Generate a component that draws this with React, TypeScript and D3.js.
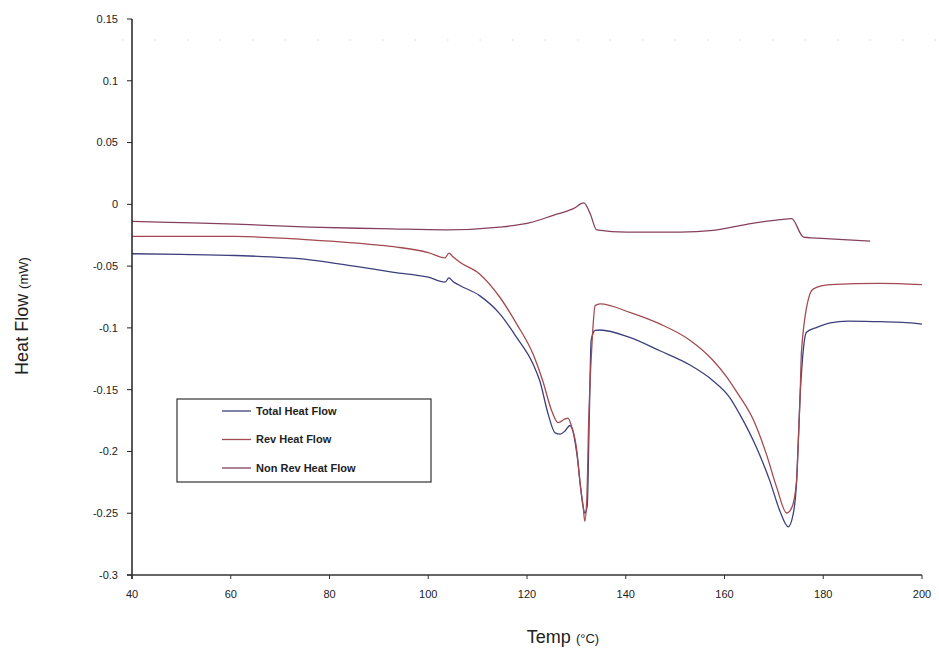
import React from "react";
import * as d3 from "d3";

// temperatures (°C) and heat flow (mW)
const totalTemp = [40, 50, 61, 76, 85, 93, 100, 103.4, 104.2, 105, 106.4, 110.4, 114.5, 117.9, 121.2, 122.6, 124.3, 125.7, 126.7, 127.7, 128.7, 129.3, 130.1, 131.3, 131.7, 132.2, 132.6, 133, 133.8, 134.8, 140.8, 146.9, 153, 157.6, 161, 163.1, 166.5, 169.2, 171.2, 172.9, 173.9, 174.6, 174.9, 175.3, 175.8, 176.6, 178.7, 181.4, 185, 191.5, 196, 200];
const totalFlow = [-0.04, -0.0405, -0.0414, -0.0449, -0.05, -0.055, -0.059, -0.063, -0.0595, -0.0625, -0.0657, -0.0739, -0.0887, -0.1077, -0.129, -0.143, -0.17, -0.185, -0.186, -0.1834, -0.179, -0.1834, -0.202, -0.243, -0.25, -0.244, -0.175, -0.11, -0.102, -0.1017, -0.1077, -0.1185, -0.13, -0.1425, -0.156, -0.17, -0.197, -0.224, -0.248, -0.261, -0.251, -0.224, -0.197, -0.156, -0.125, -0.1036, -0.0996, -0.096, -0.0945, -0.095, -0.0955, -0.0969];

const revTemp = [40, 61, 76, 90, 93.6, 100, 103.4, 104.2, 105, 106.4, 110.4, 114.5, 117.9, 121.2, 123.2, 125, 126.3, 127.7, 128.3, 129, 130.1, 130.7, 131.4, 131.7, 132.1, 132.5, 133.2, 133.8, 134.8, 140.8, 146.9, 153, 157.6, 160.5, 162.5, 165.8, 168.5, 170.6, 172.6, 173.6, 174.6, 174.9, 175.3, 175.6, 177.3, 178, 181.4, 191.5, 200];
const revFlow = [-0.026, -0.026, -0.0287, -0.033, -0.0346, -0.039, -0.0433, -0.0395, -0.0425, -0.0468, -0.0563, -0.0752, -0.0968, -0.121, -0.143, -0.167, -0.1767, -0.1737, -0.1731, -0.1794, -0.1997, -0.224, -0.2457, -0.2565, -0.24, -0.175, -0.11, -0.082, -0.0806, -0.0874, -0.0968, -0.11, -0.126, -0.14, -0.152, -0.174, -0.2024, -0.2295, -0.2498, -0.2457, -0.224, -0.197, -0.1564, -0.1185, -0.0725, -0.0684, -0.065, -0.0639, -0.065];

const nonRevTemp = [40, 50, 61, 76, 90.2, 93.6, 103.7, 114.5, 120.6, 125.3, 129.4, 131.5, 132.8, 134.1, 140.2, 151, 157.7, 164.5, 171.2, 173.6, 176, 181.4, 189.5];
const nonRevFlow = [-0.0138, -0.0148, -0.016, -0.0184, -0.0197, -0.02, -0.0206, -0.0184, -0.0149, -0.0089, -0.0035, 0.0011, -0.0076, -0.0206, -0.0225, -0.0225, -0.0211, -0.0162, -0.0124, -0.0116, -0.0265, -0.0279, -0.0298];

const xTicks = [40, 60, 80, 100, 120, 140, 160, 180, 200];
const yTicks = [0.15, 0.1, 0.05, 0, -0.05, -0.1, -0.15, -0.2, -0.25, -0.3];
const yTickLabels = ["0.15", "0.1", "0.05", "0", "-0.05", "-0.1", "-0.15", "-0.2", "-0.25", "-0.3"];

const seriesNames = ["Total Heat Flow", "Rev Heat Flow", "Non Rev Heat Flow"];
const seriesColors = ["#3d3f7c", "#a24a50", "#86405e"];

export default function App() {
  const x = d3.scaleLinear().domain([40, 200]).range([132, 922]);
  const y = d3.scaleLinear().domain([-0.3, 0.15]).range([575, 19]);

  const line = d3
    .line<[number, number]>()
    .x((d) => x(d[0]))
    .y((d) => y(d[1]))
    .curve(d3.curveMonotoneX);

  const series = [
    d3.zip(totalTemp, totalFlow) as [number, number][],
    d3.zip(revTemp, revFlow) as [number, number][],
    d3.zip(nonRevTemp, nonRevFlow) as [number, number][],
  ];

  const font = "Liberation Sans, Arial, sans-serif";
  const x0 = x(40);
  const yBase = y(-0.3);

  return (
    <svg
      width={939}
      height={655}
      style={{ position: "absolute", left: 0, top: 0, background: "#fff" }}
      fontFamily={font}
    >
      <rect width={939} height={655} fill="#fff" />
      {/* faint dotted line near the top of the plot area */}
      <line x1={x0 - 10} x2={939} y1={y(0.133)} y2={y(0.133)} stroke="#d8d8d8" strokeDasharray="1.5,31" />

      {/* curves */}
      {series.map((s, i) => (
        <path key={i} d={line(s) || ""} fill="none" stroke={seriesColors[i]} strokeWidth={1.3} strokeLinejoin="round" />
      ))}

      {/* y axis */}
      <line x1={x0} x2={x0} y1={y(0.15)} y2={yBase + 4} stroke="#222" strokeWidth={1.5} />
      {yTicks.map((t, i) => (
        <g key={t}>
          <line x1={x0 - 5} x2={x0} y1={y(t)} y2={y(t)} stroke="#222" strokeWidth={1} />
          <text x={x0 - 14} y={y(t)} dy="0.35em" textAnchor="end" fontSize={11} fill="#222">
            {yTickLabels[i]}
          </text>
        </g>
      ))}

      {/* x axis */}
      <line x1={x0 - 5} x2={x(200)} y1={yBase} y2={yBase} stroke="#333" strokeWidth={1.3} />
      {xTicks.map((t) => (
        <g key={t}>
          <line x1={x(t)} x2={x(t)} y1={yBase} y2={yBase + 4} stroke="#333" strokeWidth={1} />
          <text x={x(t)} y={yBase + 23} textAnchor="middle" fontSize={11} fill="#222">
            {t}
          </text>
        </g>
      ))}

      {/* axis titles */}
      <text x={563} y={643} textAnchor="middle" fill="#222">
        <tspan fontSize={18}>Temp </tspan>
        <tspan fontSize={13}>(°C)</tspan>
      </text>
      <text transform="translate(28,316) rotate(-90)" textAnchor="middle" fill="#222">
        <tspan fontSize={18}>Heat Flow </tspan>
        <tspan fontSize={13}>(mW)</tspan>
      </text>

      {/* legend */}
      <rect x={177} y={399} width={254} height={83} fill="#fff" stroke="#333" strokeWidth={1.2} />
      {seriesNames.map((name, i) => (
        <g key={name} transform={`translate(0, ${411 + i * 28.5})`}>
          <line x1={222} x2={251} y1={0} y2={0} stroke={seriesColors[i]} strokeWidth={1.3} />
          <text x={256} y={0} dy="0.35em" fontSize={11} fontWeight="bold" fill="#222">
            {name}
          </text>
        </g>
      ))}
    </svg>
  );
}
